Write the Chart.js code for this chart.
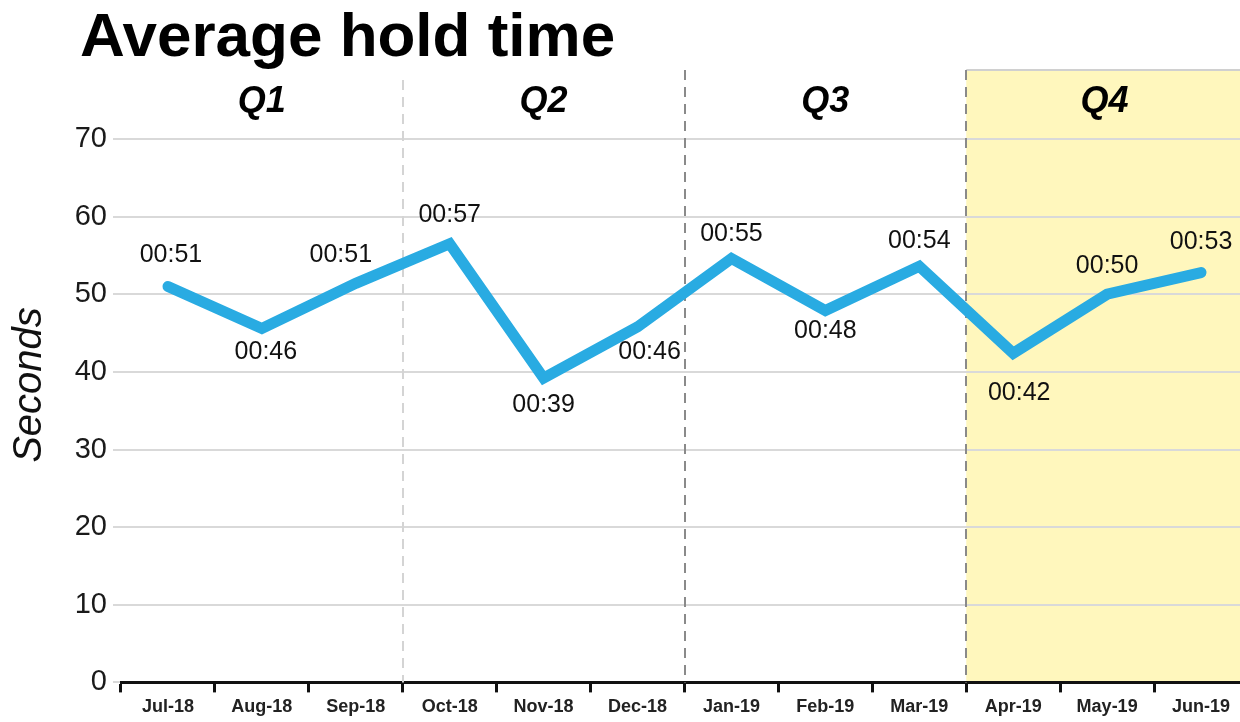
<!DOCTYPE html>
<html>
<head>
<meta charset="utf-8">
<script src="https://cdn.jsdelivr.net/npm/chart.js@4.4.1/dist/chart.umd.min.js"></script>
<style>
  html, body { margin: 0; padding: 0; background: #fff; overflow: hidden; }
  #wrap { width: 1248px; height: 722px; }
</style>
</head>
<body>
<div id="wrap"><canvas id="holdChart" width="1248" height="722"></canvas></div>
<script>
// data
const months = ["Jul-18", "Aug-18", "Sep-18", "Oct-18", "Nov-18", "Dec-18",
                "Jan-19", "Feb-19", "Mar-19", "Apr-19", "May-19", "Jun-19"];
const holdSeconds = [51, 45.6, 51.4, 56.5, 39.2, 45.8, 54.6, 47.9, 53.6, 42.4, 50, 52.8];
const quarters = ["Q1", "Q2", "Q3", "Q4"];
const yTicks = [0, 10, 20, 30, 40, 50, 60, 70];

// where each value label sits relative to its point (dx, dy)
const labelOffsets = [[3, -31], [4, 24], [-15, -28], [0, -29], [0, 27], [12, 25],
                      [0, -24], [0, 21], [0, -25], [6, 40], [0, -28], [0, -30]];

const FONT = "'Liberation Sans', Arial, sans-serif";
const NARROW = "'Liberation Sans Narrow', 'Arial Narrow', " + FONT;

const fmt = (v) => "00:" + String(Math.round(v)).padStart(2, "0");

const boundary = (x, i) => {
  if (i <= 0) return x.left;
  if (i >= months.length) return x.right;
  return (x.getPixelForValue(i - 1) + x.getPixelForValue(i)) / 2;
};

const decor = {
  id: "decor",
  beforeDraw(chart) {
    const ctx = chart.ctx;
    const x = chart.scales.x;
    const area = chart.chartArea;
    const top = 70;
    ctx.save();
    // Q4 highlight
    const q4 = boundary(x, 9);
    ctx.fillStyle = "#fff7bd";
    ctx.fillRect(q4, top, chart.width - q4, area.bottom - top);
    ctx.strokeStyle = "#d0d0d0";
    ctx.lineWidth = 2;
    ctx.beginPath();
    ctx.moveTo(q4, top);
    ctx.lineTo(chart.width, top);
    ctx.stroke();

    // title
    ctx.fillStyle = "#000";
    ctx.font = "bold 62px " + FONT;
    ctx.textAlign = "left";
    ctx.textBaseline = "alphabetic";
    ctx.fillText("Average hold time", 80, 56);

    // quarter names
    ctx.font = "italic bold 36px " + FONT;
    ctx.textAlign = "center";
    ctx.textBaseline = "middle";
    quarters.forEach((q, i) => {
      const l = boundary(x, i * 3);
      const r = i === 3 ? 1243 : boundary(x, i * 3 + 3);
      ctx.fillText(q, (l + r) / 2, 102);
    });

    // y axis title
    ctx.translate(30, 385);
    ctx.rotate(-Math.PI / 2);
    ctx.font = "italic 40px " + FONT;
    ctx.fillStyle = "#111";
    ctx.fillText("Seconds", 0, 0);
    ctx.restore();
  },
  beforeDatasetsDraw(chart) {
    const ctx = chart.ctx;
    const x = chart.scales.x;
    const area = chart.chartArea;
    const dividers = [[3, "#d4d4d4", 80], [6, "#8a8a8a", 70], [9, "#8a8a8a", 70]];
    ctx.save();
    ctx.lineWidth = 2;
    ctx.setLineDash([10, 7]);
    dividers.forEach(([i, color, top]) => {
      const px = Math.round(boundary(x, i));
      ctx.strokeStyle = color;
      ctx.beginPath();
      ctx.moveTo(px, top);
      ctx.lineTo(px, area.bottom);
      ctx.stroke();
    });
    ctx.restore();
  },
  afterDatasetsDraw(chart) {
    const ctx = chart.ctx;
    const meta = chart.getDatasetMeta(0);
    ctx.save();
    ctx.font = "25px " + FONT;
    ctx.fillStyle = "#111";
    ctx.textAlign = "center";
    ctx.textBaseline = "middle";
    meta.data.forEach((pt, i) => {
      const [dx, dy] = labelOffsets[i];
      ctx.fillText(fmt(holdSeconds[i]), pt.x + dx, pt.y + dy);
    });
    ctx.restore();
  }
};

const ctx = document.getElementById("holdChart").getContext("2d");
const holdChart = new Chart(ctx, {
  type: "line",
  data: {
    labels: months,
    datasets: [{
      data: holdSeconds,
      borderColor: "#29abe2",
      borderWidth: 11,
      borderCapStyle: "round",
      borderJoinStyle: "miter",
      pointRadius: 0,
      tension: 0,
      fill: false
    }]
  },
  options: {
    responsive: false,
    animation: false,
    layout: { padding: { top: 139, left: 0, right: 0, bottom: 0 } },
    plugins: {
      legend: { display: false },
      tooltip: { enabled: false },
      title: { display: false }
    },
    scales: {
      x: {
        type: "category",
        offset: true,
        grid: {
          offset: true,
          drawOnChartArea: false,
          color: "#111",
          lineWidth: 3,
          tickLength: 10
        },
        border: { display: true, color: "#111", width: 3 },
        ticks: {
          color: "#222",
          font: { family: NARROW, size: 18, weight: "bold" },
          padding: 4,
          maxRotation: 0,
          autoSkip: false
        }
      },
      y: {
        min: 0,
        max: 70,
        afterBuildTicks: (scale) => { scale.ticks = yTicks.map((v) => ({ value: v })); },
        afterFit: (scale) => { scale.width = 121; },
        grid: { color: "#d9d9d9", lineWidth: 2, tickLength: 8 },
        border: { display: false },
        ticks: {
          color: "#1a1a1a",
          font: { family: FONT, size: 29 },
          padding: 6
        }
      }
    }
  },
  plugins: [decor]
});
</script>
</body>
</html>
